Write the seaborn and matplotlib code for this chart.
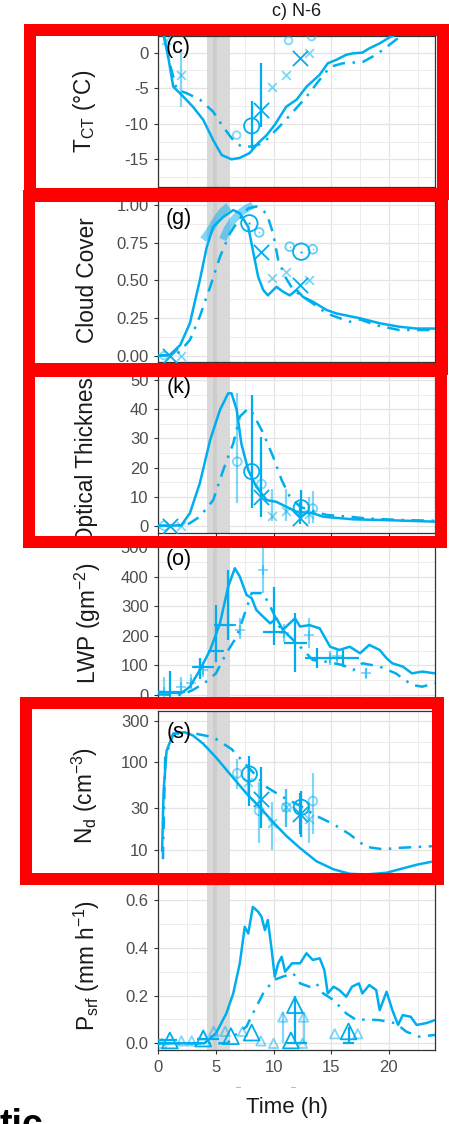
import matplotlib
matplotlib.use('Agg')
import matplotlib.pyplot as plt
import matplotlib.ticker as mticker
from matplotlib.patches import Rectangle
from matplotlib.lines import Line2D
import seaborn as sns

sns.set_theme(style='whitegrid')
plt.rcParams['font.family'] = ['Liberation Sans', 'DejaVu Sans']
plt.rcParams['mathtext.default'] = 'regular'

BLUE = '#00AEEF'
W, H = 449, 1124

# ---------------- data ----------------
# cloud-top temperature
t_tct_1 = [0.5, 0.9, 1.3, 2.0, 3.0, 3.9, 4.76, 5.5, 6.35, 7.07, 7.94, 8.66, 9.4, 10.1, 11.1, 12.0,
           12.85, 14.0, 14.7, 15.45, 16.3, 16.9, 17.7, 18.3, 19.2, 20.1, 21.0, 22.0, 24.0]
tct_1 = [2.3, -1.0, -4.8, -5.9, -7.6, -9.45, -12.3, -14.4, -15.0, -14.8, -14.1, -12.7, -11.6, -10.15,
         -7.6, -6.6, -4.8, -3.1, -1.5, -1.0, -0.3, -0.1, 0.0, 0.6, 1.3, 2.2, 2.8, 3.3, 4.0]
t_tct_2 = [0.5, 0.9, 1.6, 2.46, 3.6, 4.76, 5.6, 6.5, 7.2, 8.2, 9.1, 9.96, 10.8, 11.7, 12.85, 14.0,
           14.9, 16.0, 17.75, 18.6, 19.5, 20.6, 21.5, 22.5, 24.0]
tct_2 = [2.3, -1.0, -5.2, -5.7, -6.6, -8.3, -10.4, -12.3, -13.2, -13.2, -12.7, -11.3, -9.9, -8.3,
         -6.2, -3.8, -2.0, -1.5, -1.3, -0.55, 0.4, 1.8, 2.7, 3.4, 4.5]
tct_bigo = ([8.1], [-10.3], [-13.5], [-6.8])
tct_bigx = ([8.95, 12.27], [-8.05, -0.8], [-10.4, -0.8], [-1.5, -0.8])
tct_lx = ([0.7, 2.0, 9.9, 11.1, 13.1], [1.8, -3.1, -4.9, -3.1, 0.0],
          [1.8, -7.6, -4.9, -3.1, 0.0], [1.8, 0.4, -4.9, -3.1, 0.0])
tct_lo = ([6.8, 11.3, 13.3], [-11.6, 1.7, 2.25])

# cloud cover
t_cc_1 = [0, 1.0, 1.9, 2.74, 3.6, 4.2, 4.76, 5.63, 6.5, 7.07, 7.8, 8.2, 8.66, 9.1, 9.5, 10.25, 10.8,
          11.4, 12.0, 12.55, 13.4, 14.6, 15.45, 17.5, 19.2, 20.9, 22.4, 24]
cc_1 = [0, 0.005, 0.07, 0.215, 0.50, 0.72, 0.855, 0.92, 0.966, 0.944, 0.855, 0.70, 0.524, 0.436, 0.40,
        0.457, 0.425, 0.40, 0.436, 0.39, 0.358, 0.303, 0.28, 0.248, 0.215, 0.192, 0.18, 0.18]
t_cc_2 = [0, 1.5, 2.0, 2.74, 3.6, 4.5, 5.35, 6.2, 7.07, 7.8, 8.5, 9.4, 9.96, 10.4, 11.0, 11.7, 12.55,
          13.4, 14.6, 16.6, 17.5, 19.0, 20.9, 24]
cc_2 = [0, 0.005, 0.038, 0.104, 0.26, 0.457, 0.656, 0.81, 0.91, 0.977, 0.99, 0.944, 0.81, 0.635, 0.524,
        0.436, 0.39, 0.347, 0.28, 0.225, 0.24, 0.20, 0.17, 0.17]
t_cc_sat1 = [3.9, 4.4, 4.76, 5.2, 5.6, 6.1]
cc_sat1 = [0.77, 0.82, 0.867, 0.92, 0.96, 0.99]
t_cc_sat2 = [5.6, 6.0, 6.5, 7.0, 7.4, 8.2]
cc_sat2 = [0.77, 0.84, 0.90, 0.94, 0.965, 1.0]
cc_bigo = ([7.9, 12.4], [0.878, 0.69])
cc_lo = ([8.75, 11.4, 13.4], [0.818, 0.723, 0.706])
cc_bigx = ([1.0, 8.95, 12.27], [0.0, 0.69, 0.469])
cc_lx = ([2.0, 9.9, 11.1, 13.1], [0.0, 0.513, 0.557, 0.50])

# optical thickness
t_ot_1 = [0, 1.0, 2.0, 2.74, 3.6, 4.5, 5.35, 6.06, 6.35, 6.8, 7.2, 7.8, 8.5, 9.4, 10.25, 11.1, 12.0,
          13.4, 14.3, 16.9, 19.5, 24]
ot_1 = [0, 0, 0.2, 4.3, 14.6, 29.5, 39.8, 45.5, 45.5, 39.8, 28.3, 19.1, 13.4, 8.8, 8.2, 6.5, 4.8, 4.3,
        3.1, 2.2, 1.96, 1.4]
t_ot_2 = [0, 1.5, 2.46, 3.6, 4.76, 5.63, 6.5, 7.07, 7.8, 8.2, 9.1, 9.96, 10.7, 11.4, 12.3, 13.1, 14.6,
          16.6, 18.0, 20.9, 24]
ot_2 = [0, 0, 0.2, 3.1, 8.8, 19.1, 28.3, 37.5, 40.3, 38.6, 31.8, 23.7, 15.7, 10.0, 6.5, 5.4, 3.7, 3.1,
        2.5, 2.0, 1.7]
ot_bigo = ([8.1, 12.4], [18.6, 6.2], [6.0, 2.0], [45.0, 12.3])
ot_bigx = ([1.0, 8.95, 12.27], [0.0, 10.0, 2.8], [0.0, 3.1, 0.5], [0.0, 30.6, 8.0])
ot_lo = ([0.5, 6.85, 8.95, 13.4], [0.0, 22.0, 14.3, 5.9], [0.0, 7.8, 5.0, 1.0], [0.0, 45.5, 25.0, 12.0])
ot_lx = ([2.0, 9.9, 11.1, 13.1], [0.0, 3.4, 5.1, 4.0], [0.0, 1.7, 1.7, 0.5], [0.0, 12.7, 12.7, 10.0])

# liquid water path
t_lwp_1 = [0, 1.0, 2.0, 2.74, 3.6, 4.5, 5.35, 6.06, 6.64, 7.07, 7.65, 8.1, 8.5, 9.1, 9.7, 10.25, 10.8,
           11.4, 11.85, 12.3, 13.1, 14.0, 14.9, 15.7, 16.6, 17.5, 18.3, 19.2, 19.8, 20.3, 21.2, 22.0,
           22.9, 24]
lwp_1 = [11, 8, 6, 28, 84, 152, 242, 366, 428, 400, 338, 327, 287, 264, 242, 259, 220, 242, 259, 231,
         236, 225, 163, 152, 163, 141, 169, 152, 124, 107, 96, 73, 79, 73]
t_lwp_2 = [0, 1.0, 2.0, 3.0, 4.0, 5.0, 5.9, 6.8, 7.4, 8.1, 9.1, 10.0, 10.5, 11.4, 12.3, 13.4, 14.6,
           16.0, 16.9, 17.7, 19.2, 20.6, 22.0, 22.9, 24]
lwp_2 = [2, 1, 0, 17, 40, 73, 141, 197, 264, 344, 344, 276, 231, 197, 163, 118, 112, 101, 84, 107, 96,
         73, 34, 28, 40]
lwp_big_t = [1.0, 3.6, 5.0, 6.06, 10.0, 11.85, 13.8, 16.0]
lwp_big_v = [11, 94, 150, 236, 214, 175, 124, 124]
lwp_big_xlo = [0.0, 3.0, 4.4, 4.8, 9.1, 10.9, 12.7, 14.9]
lwp_big_xhi = [2.3, 4.8, 5.6, 6.45, 11.1, 12.9, 15.1, 17.4]
lwp_big_ylo = [0, 55, 112, 186, 169, 79, 90, 95]
lwp_big_yhi = [80, 125, 304, 422, 366, 277, 160, 150]
lwp_l_t = [0.5, 2.0, 2.8, 3.9, 7.07, 9.05, 10.9, 13.1, 14.85, 15.5, 18.0]
lwp_l_v = [11, 28, 40, 84, 220, 422, 208, 203, 124, 130, 73]
lwp_l_ylo = [0, 10, 20, 60, 190, 344, 180, 160, 100, 100, 55]
lwp_l_yhi = [60, 60, 70, 110, 260, 520, 240, 260, 150, 160, 90]

# droplet number
t_nd_1 = [0.33, 0.46, 0.72, 1.3, 2.3, 3.0, 3.9, 5.0, 6.35, 7.65, 8.8, 10.0, 11.1, 12.27, 13.7, 15.2,
          16.6, 18.0, 19.8, 20.9, 22.5, 24]
nd_1 = [9.7, 47, 136, 213, 221, 203, 163, 114, 70, 44, 30.6, 20.4, 14.4, 10.5, 7.4, 5.96, 5.3, 5.2,
        5.45, 5.96, 6.77, 7.4]
t_nd_2 = [0.4, 0.6, 1.3, 3.0, 4.76, 6.35, 7.8, 9.4, 10.8, 12.3, 13.7, 15.2, 16.6, 18.0, 19.5, 20.9, 24]
nd_2 = [7.8, 114, 213, 216, 194, 142, 88, 52, 40, 31.8, 24.4, 19.6, 15.0, 10.8, 10.1, 10.5, 11.0]
nd_bigo = ([7.9, 12.4], [73.5, 30.6], [31.8, 13.8], [119, 47])
nd_bigx = ([8.95, 12.27], [38, 25.6], [17.9, 15], [88, 45])
nd_lo = ([6.85, 8.75, 11.1, 13.4], [74.8, 27.9, 30.6, 36], [50, 12, 18, 15], [110, 60, 50, 75])
nd_lx = ([7.8, 9.9, 11.1, 13.1], [60, 20.4, 30.6, 22.3], [40, 10, 18, 12], [90, 35, 50, 35])

# surface precipitation
t_p_1 = [0, 4.0, 5.0, 5.9, 6.5, 7.07, 7.5, 7.8, 8.2, 8.66, 8.95, 9.25, 9.5, 9.8, 10.1, 10.4, 10.7, 11.0,
         11.6, 12.3, 12.85, 13.4, 14.0, 14.4, 14.7, 15.2, 15.7, 16.3, 16.8, 17.4, 17.7, 18.3, 18.9, 19.2,
         19.8, 20.3, 20.8, 21.2, 21.9, 22.4, 23.2, 24]
p_1 = [0, 0, 0.042, 0.125, 0.209, 0.335, 0.488, 0.46, 0.571, 0.551, 0.53, 0.474, 0.516, 0.404, 0.279,
       0.335, 0.362, 0.30, 0.335, 0.335, 0.377, 0.349, 0.356, 0.307, 0.209, 0.237, 0.223, 0.195, 0.237,
       0.251, 0.209, 0.244, 0.223, 0.139, 0.216, 0.139, 0.077, 0.118, 0.111, 0.077, 0.084, 0.097]
t_p_2 = [0, 6.0, 6.5, 7.65, 8.2, 9.1, 10.0, 10.8, 11.7, 12.3, 13.1, 13.7, 14.3, 15.2, 16.3, 17.2, 18.0,
         19.2, 20.6, 21.5, 22.6, 24]
p_2 = [0, 0, 0.028, 0.07, 0.125, 0.209, 0.265, 0.279, 0.293, 0.251, 0.237, 0.251, 0.209, 0.181, 0.125,
       0.097, 0.10, 0.097, 0.084, 0.049, 0.028, 0.035]
p_big_t = [1.0, 3.9, 6.3, 8.1, 11.5, 11.85, 16.5]
p_big_v = [0.012, 0.02, 0.03, 0.045, 0.012, 0.16, 0.05]
p_big_xlo = [0.0, 3.4, 6.3, 8.1, 11.5, 11.0, 16.0]
p_big_xhi = [1.6, 5.3, 6.3, 8.1, 11.5, 12.9, 17.0]
p_big_ylo = [0.012, 0.02, 0.03, 0.045, 0.012, 0.0, 0.0]
p_big_yhi = [0.012, 0.02, 0.03, 0.045, 0.012, 0.2, 0.07]
p_l_t = [0.3, 2.0, 2.9, 3.9, 4.8, 5.8, 7.3, 8.9, 10.0, 10.8, 12.6, 12.5, 15.3, 17.3]
p_l_v = [0.0, 0.01, 0.01, 0.035, 0.05, 0.05, 0.05, 0.01, 0.0, 0.11, 0.11, 0.0, 0.04, 0.04]

# ---------------- figure ----------------
fig = plt.figure(figsize=(W / 100, H / 100), dpi=100)


def add_panel(top, bottom):
    return fig.add_axes([158.3 / W, 1 - bottom / H, (435 - 158.3) / W, (bottom - top) / H])


def style(ax, ylim, yticks, ylabels, yminor, last=False):
    ax.set_xlim(0, 24)
    ax.set_ylim(*ylim)
    ax.set_xticks([0, 5, 10, 15, 20])
    ax.xaxis.set_minor_locator(mticker.FixedLocator([2.5, 7.5, 12.5, 17.5, 22.5]))
    ax.set_yticks(yticks)
    ax.set_yticklabels(ylabels)
    ax.yaxis.set_minor_locator(mticker.FixedLocator(yminor))
    ax.yaxis.set_minor_formatter(mticker.NullFormatter())
    ax.set_axisbelow(True)
    ax.grid(which='major', color='#e4e4e4', lw=0.9)
    ax.grid(which='minor', color='#ececec', lw=0.7)
    for s in ax.spines.values():
        s.set_color('#333333')
        s.set_linewidth(0.9)
    ax.tick_params(which='major', left=True, bottom=True, length=3, width=0.8, color='#333333',
                   labelsize=12, labelcolor='#4d4d4d', pad=4)
    ax.tick_params(which='minor', length=0)
    ax.tick_params(labelbottom=last)
    ax.set_xlabel('')
    ax.set_ylabel('')
    ax.axvspan(4.25, 6.2, color='#d9d9d9', lw=0, zorder=1)
    ax.axvspan(4.75, 5.05, color='#cdcdcd', lw=0, zorder=1)


def lines(ax, t1, v1, t2, v2):
    sns.lineplot(x=t1, y=v1, ax=ax, color=BLUE, lw=1.8, estimator=None, sort=False, zorder=3)
    sns.lineplot(x=t2, y=v2, ax=ax, color=BLUE, lw=1.8, estimator=None, sort=False, zorder=3,
                 linestyle=(0, (5, 3, 1, 3)))


def pts(ax, t, v, marker, s, alpha=1.0, lw=1.3):
    if marker in ('o', '^'):
        sns.scatterplot(x=t, y=v, ax=ax, marker=marker, s=s, facecolor='none', edgecolor=BLUE,
                        linewidth=lw, alpha=alpha, zorder=4, legend=False)
    else:
        sns.scatterplot(x=t, y=v, ax=ax, marker=marker, s=s, color=BLUE, linewidth=lw,
                        alpha=alpha, zorder=4, legend=False)


def bars(ax, t, lo, hi, alpha=1.0, lw=1.6):
    ax.vlines(t, lo, hi, color=BLUE, lw=lw, alpha=alpha, zorder=4)


def plabel(ax, txt, x, y):
    ax.text(x, y, txt, transform=ax.transAxes, fontsize=15.5, ha='center', va='center',
            color='black', zorder=10)


# panel 1: T_CT
ax1 = add_panel(36, 186.7)
style(ax1, (-18.85, 2.34), [0, -5, -10, -15], ['0', '-5', '-10', '-15'], [-2.5, -7.5, -12.5, -17.5])
lines(ax1, t_tct_1, tct_1, t_tct_2, tct_2)
bars(ax1, tct_lx[0], tct_lx[2], tct_lx[3], alpha=0.5)
pts(ax1, tct_lx[0], tct_lx[1], 'x', 40, alpha=0.5)
pts(ax1, tct_lo[0], tct_lo[1], 'o', 30, alpha=0.5)
bars(ax1, tct_bigo[0], tct_bigo[2], tct_bigo[3])
pts(ax1, tct_bigo[0], tct_bigo[1], 'o', 120)
bars(ax1, tct_bigx[0], tct_bigx[2], tct_bigx[3])
pts(ax1, tct_bigx[0], tct_bigx[1], 'x', 120)
plabel(ax1, '(c)', 0.072, 0.925)

# panel 2: cloud cover
ax2 = add_panel(197.4, 362.3)
style(ax2, (-0.044, 1.05), [0, 0.25, 0.5, 0.75, 1.0], ['0.00', '0.25', '0.50', '0.75', '1.00'],
      [0.125, 0.375, 0.625, 0.875])
sns.lineplot(x=t_cc_sat1, y=cc_sat1, ax=ax2, color=BLUE, lw=5.5, alpha=0.5, estimator=None,
             sort=False, zorder=3, solid_capstyle='butt')
sns.lineplot(x=t_cc_sat2, y=cc_sat2, ax=ax2, color=BLUE, lw=5.5, alpha=0.5, estimator=None,
             sort=False, zorder=3, solid_capstyle='butt')
lines(ax2, t_cc_1, cc_1, t_cc_2, cc_2)
pts(ax2, cc_lo[0], cc_lo[1], 'o', 40, alpha=0.6)
pts(ax2, cc_lo[0], cc_lo[1], '.', 6, alpha=0.6, lw=0)
pts(ax2, cc_bigo[0], cc_bigo[1], 'o', 140)
pts(ax2, cc_bigo[0], cc_bigo[1], '.', 10, lw=0)
pts(ax2, cc_lx[0], cc_lx[1], 'x', 40, alpha=0.5)
pts(ax2, cc_bigx[0], cc_bigx[1], 'x', 120)
pts(ax2, [0.5], [0.0], 'o', 30, alpha=0.5)
plabel(ax2, '(g)', 0.075, 0.875)

# panel 3: optical thickness
ax3 = add_panel(374.4, 533.3)
style(ax3, (-2.6, 52), [0, 10, 20, 30, 40, 50], ['0', '10', '20', '30', '40', '50'],
      [5, 15, 25, 35, 45])
lines(ax3, t_ot_1, ot_1, t_ot_2, ot_2)
bars(ax3, ot_lo[0], ot_lo[2], ot_lo[3], alpha=0.5)
pts(ax3, ot_lo[0], ot_lo[1], 'o', 40, alpha=0.5)
bars(ax3, ot_lx[0], ot_lx[2], ot_lx[3], alpha=0.5)
pts(ax3, ot_lx[0], ot_lx[1], 'x', 40, alpha=0.5)
bars(ax3, ot_bigo[0], ot_bigo[2], ot_bigo[3])
pts(ax3, ot_bigo[0], ot_bigo[1], 'o', 120)
bars(ax3, ot_bigx[0], ot_bigx[2], ot_bigx[3])
pts(ax3, ot_bigx[0], ot_bigx[1], 'x', 120)
plabel(ax3, '(k)', 0.075, 0.915)

# panel 4: LWP
ax4 = add_panel(541, 701.5)
style(ax4, (-22, 520), [0, 100, 200, 300, 400, 500], ['0', '100', '200', '300', '400', '500'],
      [50, 150, 250, 350, 450])
lines(ax4, t_lwp_1, lwp_1, t_lwp_2, lwp_2)
bars(ax4, lwp_l_t, lwp_l_ylo, lwp_l_yhi, alpha=0.5)
pts(ax4, lwp_l_t, lwp_l_v, '+', 60, alpha=0.5)
bars(ax4, lwp_big_t, lwp_big_ylo, lwp_big_yhi)
ax4.hlines(lwp_big_v, lwp_big_xlo, lwp_big_xhi, color=BLUE, lw=1.6, zorder=4)
pts(ax4, lwp_big_t, lwp_big_v, '+', 120)
plabel(ax4, '(o)', 0.075, 0.882)

# panel 5: N_d
ax5 = add_panel(710.7, 876)
ax5.set_yscale('log')
style(ax5, (5.0, 390), [10, 30, 100, 300], ['10', '30', '100', '300'], [5.48, 17.3, 54.8, 173])
lines(ax5, t_nd_1, nd_1, t_nd_2, nd_2)
bars(ax5, nd_lo[0], nd_lo[2], nd_lo[3], alpha=0.5)
pts(ax5, nd_lo[0], nd_lo[1], 'o', 40, alpha=0.5)
bars(ax5, nd_lx[0], nd_lx[2], nd_lx[3], alpha=0.5)
pts(ax5, nd_lx[0], nd_lx[1], 'x', 40, alpha=0.5)
bars(ax5, nd_bigo[0], nd_bigo[2], nd_bigo[3])
pts(ax5, nd_bigo[0], nd_bigo[1], 'o', 120)
bars(ax5, nd_bigx[0], nd_bigx[2], nd_bigx[3])
pts(ax5, nd_bigx[0], nd_bigx[1], 'x', 120)
plabel(ax5, '(s)', 0.075, 0.87)

# panel 6: P_srf
ax6 = add_panel(884, 1050)
style(ax6, (-0.028, 0.667), [0, 0.2, 0.4, 0.6], ['0.0', '0.2', '0.4', '0.6'], [0.1, 0.3, 0.5], last=True)
ax6.set_xticklabels(['0', '5', '10', '15', '20'])
lines(ax6, t_p_1, p_1, t_p_2, p_2)
bars(ax6, [10.8, 12.6], [0.0, 0.0], [0.13, 0.13], alpha=0.5)
pts(ax6, p_l_t, p_l_v, '^', 45, alpha=0.5)
bars(ax6, p_big_t, p_big_ylo, p_big_yhi)
ax6.hlines(p_big_ylo, p_big_xlo, p_big_xhi, color=BLUE, lw=1.6, zorder=4)
pts(ax6, p_big_t, p_big_v, '^', 130)

# ---------------- figure texts ----------------
fig.text(297 / W, 1 - 12 / H, 'c) N-6', ha='center', va='center', fontsize=13, color='#1a1a1a')
ylabs = [('T$_{CT}$ (°C)', 84, 111.5), ('Cloud Cover', 87, 280), ('Optical Thickness', 86, 455),
         ('LWP (gm$^{-2}$)', 88, 623), ('N$_{d}$ (cm$^{-3}$)', 85, 795), ('P$_{srf}$ (mm h$^{-1}$)', 87, 965)]
for txt, x, y in ylabs:
    fig.text(x / W, 1 - y / H, txt, rotation=90, ha='center', va='center', fontsize=16.3,
             color='#1a1a1a')
fig.text(287 / W, 1 - 1107 / H, 'Time (h)', ha='center', va='center', fontsize=16, color='#1a1a1a')
for x in (238, 293):
    fig.add_artist(Line2D([(x - 2) / W, (x + 2) / W], [1 - 1087 / H] * 2, color='#bbbbbb', lw=0.8,
                          transform=fig.transFigure))
# cropped word at the bottom edge, cut off as in the source image
fig.text(-1 / W, 1 - 1136 / H, 'tic', ha='left', va='baseline', fontsize=27, fontweight='bold',
         color='black')

# red highlight boxes
for x0, y0, x1, y1 in [(29.7, 30, 443, 194), (29, 196.5, 441.5, 369),
                       (28.5, 371, 440.5, 542), (26, 703, 438.3, 879)]:
    fig.add_artist(Rectangle((x0 / W, 1 - y1 / H), (x1 - x0) / W, (y1 - y0) / H,
                             transform=fig.transFigure, fill=False, edgecolor='#ff0000',
                             lw=8.64, joinstyle='miter', zorder=100))

fig.savefig('out.png', dpi=100)
